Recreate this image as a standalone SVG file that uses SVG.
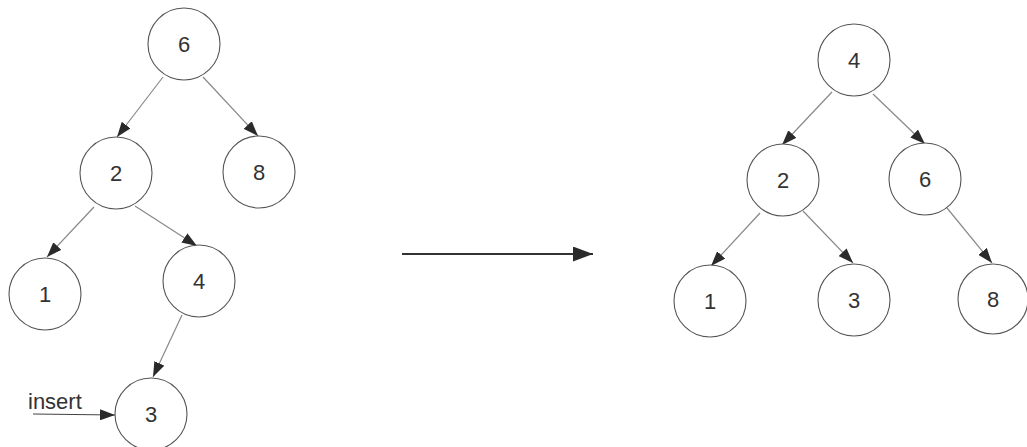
<svg xmlns="http://www.w3.org/2000/svg" width="1027" height="447" viewBox="0 0 1027 447">
<defs>
<marker id="ah" viewBox="0 0 15 11" refX="15" refY="5.5" markerWidth="15" markerHeight="11" markerUnits="userSpaceOnUse" orient="auto">
<path d="M0,0 L15,5.5 L0,11 Z" fill="#2a2a2a"/>
</marker>
<marker id="big" viewBox="0 0 20 15" refX="20" refY="7.5" markerWidth="20" markerHeight="15" markerUnits="userSpaceOnUse" orient="auto">
<path d="M0,0 L20,7.5 L0,15 Z" fill="#2a2a2a"/>
</marker>
<style>
.n circle{fill:#fff;stroke:#555;stroke-width:1.1}
.n text{font-family:"Liberation Sans",Arial,sans-serif;font-size:22px;fill:#333;text-anchor:middle}
.e line{stroke:#888;stroke-width:1.2;marker-end:url(#ah)}
</style>
</defs>
<rect width="1027" height="447" fill="#fff"/>
<g id="connectors" class="e">
<line x1="163" y1="77" x2="117" y2="137"/>
<line x1="203" y1="77" x2="258" y2="136"/>
<line x1="94" y1="207" x2="47" y2="257"/>
<line x1="135" y1="206" x2="197" y2="246"/>
<line x1="182" y1="315" x2="153" y2="377"/>
<line x1="33" y1="414" x2="115" y2="415" style="stroke:#444"/>
<line x1="832" y1="92" x2="782" y2="145"/>
<line x1="873" y1="94" x2="925" y2="144"/>
<line x1="760" y1="213" x2="711" y2="266"/>
<line x1="803" y1="211" x2="853" y2="263"/>
<line x1="947" y1="208" x2="992" y2="263"/>
<line x1="402" y1="254" x2="593" y2="254" style="stroke:#333;stroke-width:2;marker-end:url(#big)"/>
</g>
<text x="28" y="409" style="font-family:'Liberation Sans',Arial,sans-serif;font-size:22px;fill:#333">insert</text>
<g id="L6" class="n"><circle cx="184" cy="44" r="36"/><text x="184" y="52">6</text></g>
<g id="L2" class="n"><circle cx="116" cy="173" r="36"/><text x="116" y="181">2</text></g>
<g id="L8" class="n"><circle cx="259" cy="172" r="36"/><text x="259" y="180">8</text></g>
<g id="L1" class="n"><circle cx="45" cy="294" r="36"/><text x="45" y="302">1</text></g>
<g id="L4" class="n"><circle cx="199" cy="281" r="36"/><text x="199" y="289">4</text></g>
<g id="L3" class="n"><circle cx="151" cy="414" r="36"/><text x="151" y="422">3</text></g>
<g id="R4" class="n"><circle cx="854" cy="60" r="36"/><text x="854" y="68">4</text></g>
<g id="R2" class="n"><circle cx="783" cy="180" r="36"/><text x="783" y="188">2</text></g>
<g id="R6" class="n"><circle cx="925" cy="179" r="36"/><text x="925" y="187">6</text></g>
<g id="R1" class="n"><circle cx="710" cy="301" r="36"/><text x="710" y="309">1</text></g>
<g id="R3" class="n"><circle cx="854" cy="300" r="36"/><text x="854" y="308">3</text></g>
<g id="R8" class="n"><circle cx="993" cy="299" r="35"/><text x="993" y="307">8</text></g>
</svg>
